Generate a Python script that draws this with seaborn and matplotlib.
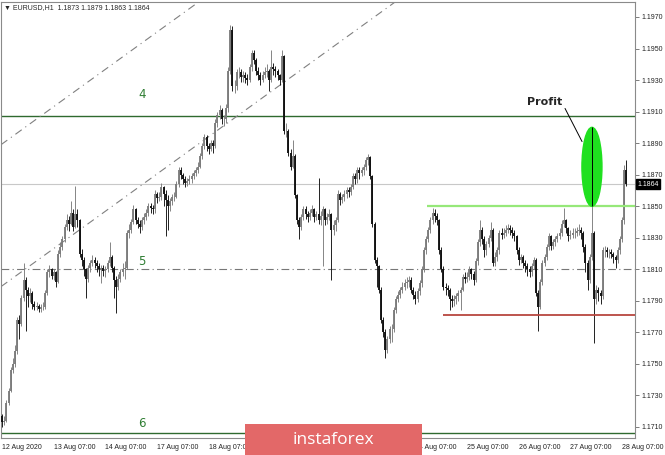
import numpy as np
import pandas as pd
import matplotlib.pyplot as plt
from matplotlib.patches import Ellipse, Rectangle
from matplotlib.transforms import Bbox, TransformedBbox
import seaborn as sns

# EURUSD H1, 12-28 Aug 2020; prices, in pips above 1.1700
base = 1.1700
first_open = 17
closes = [
    13, 14, 25, 33, 46, 50, 58, 78, 75, 92,
    103, 97, 93, 95, 88, 86, 87, 85, 86, 86,
    95, 108, 110, 106, 108, 102, 120, 124, 129, 137,
    141, 139, 146, 137, 145, 141, 120, 116, 110, 104,
    111, 114, 116, 114, 112, 110, 111, 109, 110, 114,
    118, 111, 103, 99, 104, 108, 110, 111, 133, 135,
    140, 148, 141, 139, 137, 141, 143, 146, 150, 149,
    148, 158, 155, 156, 162, 158, 154, 150, 153, 156,
    156, 164, 173, 170, 167, 165, 166, 167, 169, 171,
    173, 175, 182, 188, 194, 188, 186, 190, 188, 203,
    208, 211, 205, 205, 212, 236, 262, 226, 226, 235,
    235, 232, 233, 231, 230, 238, 247, 243, 236, 233,
    230, 233, 235, 236, 230, 238, 237, 236, 233, 230,
    245, 198, 198, 184, 175, 182, 157, 141, 137, 143,
    148, 145, 143, 146, 148, 143, 145, 141, 144, 148,
    141, 143, 145, 135, 138, 141, 158, 154, 156, 158,
    160, 159, 162, 169, 167, 173, 171, 173, 175, 179,
    181, 169, 139, 116, 112, 97, 78, 70, 59, 66,
    72, 72, 84, 91, 94, 97, 99, 101, 102, 103,
    97, 94, 91, 96, 101, 110, 122, 129, 135, 141,
    146, 144, 141, 122, 110, 99, 98, 97, 91, 90,
    91, 93, 95, 97, 105, 104, 105, 110, 107, 103,
    115, 127, 135, 129, 122, 126, 130, 135, 114, 118,
    122, 133, 132, 133, 135, 136, 135, 133, 131, 122,
    116, 118, 114, 112, 110, 108, 112, 116, 95, 86,
    102, 114, 118, 124, 131, 125, 127, 129, 131, 133,
    139, 141, 136, 131, 132, 133, 133, 134, 135, 133,
    124, 114, 103, 118, 133, 91, 97, 95, 93, 122,
    122, 121, 121, 120, 118, 116, 122, 129, 141, 173,
    164,
]
highs = [
    18, 17, 27, 35, 48, 54, 62, 80, 81, 94,
    114, 105, 99, 98, 96, 90, 89, 88, 88, 89,
    97, 110, 113, 111, 110, 109, 122, 127, 131, 139,
    145, 144, 153, 148, 163, 148, 142, 123, 118, 111,
    113, 116, 119, 118, 116, 114, 113, 113, 112, 116,
    127, 119, 112, 106, 107, 110, 114, 115, 135, 139,
    142, 151, 149, 143, 141, 143, 146, 148, 152, 152,
    151, 160, 159, 159, 165, 163, 160, 157, 155, 158,
    159, 166, 175, 175, 171, 169, 168, 170, 171, 173,
    175, 178, 184, 190, 196, 195, 190, 192, 192, 205,
    210, 214, 212, 208, 215, 238, 265, 264, 230, 237,
    238, 237, 236, 235, 234, 240, 249, 249, 244, 238,
    235, 236, 238, 240, 237, 249, 241, 239, 237, 234,
    249, 246, 203, 199, 186, 192, 183, 158, 143, 145,
    150, 150, 147, 148, 151, 149, 147, 168, 147, 150,
    149, 146, 148, 146, 141, 143, 160, 159, 158, 160,
    162, 162, 164, 171, 171, 175, 175, 175, 177, 181,
    183, 182, 170, 140, 118, 113, 99, 80, 72, 68,
    74, 75, 86, 93, 96, 99, 102, 104, 105, 106,
    105, 99, 96, 98, 103, 112, 124, 131, 137, 143,
    149, 148, 146, 142, 124, 112, 101, 100, 98, 94,
    94, 95, 97, 99, 107, 108, 108, 112, 111, 109,
    117, 129, 141, 137, 131, 128, 132, 140, 136, 121,
    124, 135, 136, 136, 138, 139, 138, 137, 135, 132,
    124, 120, 119, 116, 114, 112, 114, 118, 117, 97,
    104, 116, 120, 126, 133, 132, 129, 131, 133, 136,
    141, 149, 142, 137, 135, 136, 136, 137, 139, 137,
    134, 126, 116, 120, 150, 134, 100, 99, 97, 124,
    125, 124, 123, 123, 121, 119, 124, 131, 143, 176,
    179,
]
lows = [
    10, 11, 13, 24, 32, 44, 48, 56, 66, 74,
    90, 71, 86, 89, 85, 84, 84, 83, 83, 84,
    85, 94, 105, 104, 103, 99, 101, 118, 122, 127,
    135, 134, 138, 134, 136, 137, 118, 112, 106, 92,
    102, 108, 112, 111, 108, 106, 101, 106, 105, 108,
    112, 108, 92, 82, 97, 102, 106, 104, 110, 130,
    133, 139, 139, 136, 133, 135, 139, 141, 144, 146,
    145, 146, 152, 153, 154, 150, 131, 135, 147, 151,
    153, 155, 162, 167, 164, 162, 163, 164, 165, 167,
    169, 171, 174, 180, 186, 185, 183, 185, 184, 187,
    200, 205, 202, 201, 203, 210, 234, 223, 222, 224,
    231, 229, 229, 228, 227, 229, 236, 240, 233, 230,
    227, 229, 231, 232, 223, 229, 233, 232, 230, 227,
    229, 196, 194, 182, 173, 174, 155, 139, 129, 135,
    141, 142, 140, 141, 144, 140, 141, 139, 138, 112,
    138, 139, 141, 103, 132, 134, 140, 151, 152, 153,
    155, 156, 157, 161, 164, 165, 167, 169, 170, 173,
    176, 167, 137, 114, 99, 95, 76, 67, 54, 57,
    63, 64, 70, 82, 89, 92, 95, 97, 98, 99,
    95, 91, 88, 89, 94, 99, 108, 120, 127, 133,
    139, 140, 138, 120, 108, 97, 94, 93, 84, 86,
    87, 88, 90, 84, 96, 101, 102, 103, 104, 100,
    102, 113, 125, 126, 118, 119, 124, 128, 112, 112,
    115, 120, 129, 130, 131, 133, 132, 130, 128, 120,
    113, 114, 111, 108, 106, 105, 106, 110, 93, 71,
    85, 100, 112, 116, 122, 122, 123, 125, 127, 129,
    131, 137, 133, 128, 129, 130, 130, 131, 132, 129,
    121, 108, 97, 101, 116, 63, 88, 90, 88, 91,
    118, 118, 117, 117, 114, 111, 114, 120, 127, 139,
    163,
]

date_labels = ["12 Aug 2020", "13 Aug 07:00", "14 Aug 07:00", "17 Aug 07:00",
               "18 Aug 07:00", "19 Aug 07:00", "20 Aug 07:00", "21 Aug 07:00",
               "24 Aug 07:00", "25 Aug 07:00", "26 Aug 07:00", "27 Aug 07:00",
               "28 Aug 07:00"]
price_ticks = [1.1710, 1.1730, 1.1750, 1.1770, 1.1790, 1.1810, 1.1830,
               1.1850, 1.1870, 1.1890, 1.1910, 1.1930, 1.1950, 1.1970]

# levels drawn on the chart
level_4 = 1.1907
level_5 = 1.1810
level_6 = 1.1706
resistance, resistance_from = 1.1850, 197.5
support, support_from = 1.1781, 205
channel_upper = 1.1889   # value at the left edge
channel_lower = 1.1799
channel_slope = 0.0000986  # per bar
profit_bar, profit_top, profit_bottom = 274, 1.1900, 1.1850
profit_text = (252, 1.1916)
profit_pointer = ([261.5, 269.4], [1.1912, 1.1891])

df = pd.DataFrame({"close": closes, "high": highs, "low": lows})
df["open"] = [first_open] + closes[:-1]
df = base + df / 10000.0
df["bar"] = np.arange(len(df))
bid = df["close"].iloc[-1]

sns.set_style("white")
plt.rcParams["font.family"] = ["Liberation Sans", "DejaVu Sans"]

fig = plt.figure(figsize=(6.65, 4.55), dpi=100)
ax = fig.add_axes([1 / 665, 17 / 455, 634 / 665, 436 / 455])

# candles
up = df["close"] >= df["open"]
for mask, col in [(up, "#7c7c7c"), (~up, "#111111")]:
    d = df[mask]
    ax.vlines(d["bar"], d["low"], d["high"], color=col, lw=0.65, zorder=3)
    ax.vlines(d["bar"], d["open"], d["close"], color=col, lw=1.35, zorder=3)

# levels and channel
ax.axhline(bid, color="#c8c8c8", lw=0.8, zorder=1)
ax.axhline(level_4, color="#2f6a2f", lw=1.0, zorder=2)
ax.axhline(level_6, color="#2f6a2f", lw=1.0, zorder=2)
ax.axhline(level_5, color="#777777", lw=0.8, ls=(0, (7, 3, 1, 3)), zorder=2)
ax.hlines(resistance, resistance_from, 300, color="#96e879", lw=1.6, zorder=4)
ax.hlines(support, support_from, 300, color="#b8473f", lw=1.3, zorder=4)
for y0 in (channel_upper, channel_lower):
    ax.axline((-0.5, y0), slope=channel_slope, color="#808080", lw=0.8,
              ls=(0, (7, 4, 1, 4)), zorder=2)

for txt, y in [("4", 1.1921), ("5", 1.1815), ("6", 1.1712)]:
    ax.text(65, y, txt, color="#2e7d32", fontsize=8.5, ha="center",
            va="center", family="DejaVu Sans")

# profit marker
ax.add_patch(Ellipse((profit_bar, (profit_top + profit_bottom) / 2), 9.3,
                     profit_top - profit_bottom, color="#1fe01f", zorder=5))
ax.vlines(profit_bar, profit_bottom, profit_top, color="black", lw=0.7, zorder=6)
ax.plot(*profit_pointer, color="black", lw=0.7, zorder=6)
ax.text(*profit_text, "Profit", fontsize=8, fontweight="bold", ha="center",
        va="center", family="DejaVu Sans", zorder=6)

# header with last bar values
last = df.iloc[-1]
ax.text(0.005, 0.996,
        "\u25bc EURUSD,H1  {:.4f} {:.4f} {:.4f} {:.4f}".format(
            last["open"], last["high"], last["low"], last["close"]),
        transform=ax.transAxes, fontsize=5, va="top", ha="left",
        family=["Liberation Sans", "DejaVu Sans"])

# axes
ax.set_xlim(-0.5, 294)
ax.set_ylim(1.17030, 1.19795)
ax.set_xticks(np.arange(len(date_labels)) * 24)
ax.set_xticklabels(date_labels, ha="left")
ax.yaxis.tick_right()
ax.set_yticks(price_ticks)
ax.set_yticklabels([f"{p:.4f}" for p in price_ticks])
ax.tick_params(axis="both", labelsize=5, length=3, width=0.6, color="#666666",
               direction="out", pad=1.5, labelcolor="#222222")
for s in ax.spines.values():
    s.set_color("#8a8a8a")
    s.set_linewidth(0.8)

# current price tag
ax.text(1.004, bid, f"{bid:.4f}", transform=ax.get_yaxis_transform(),
        color="white", fontsize=5, ha="left", va="center", zorder=7,
        bbox=dict(boxstyle="square,pad=0.2", fc="black", ec="black"), clip_on=False)

# watermark over the date axis
wm_left, wm_right = 245 / 665, 422 / 665
fig.add_artist(Rectangle((wm_left, 0), wm_right - wm_left, 31 / 455,
                         transform=fig.transFigure, fc="#e36868", ec="none",
                         zorder=10))
fig.text(333 / 665, 15 / 455, "instaforex", color="white", fontsize=12.5,
         ha="center", va="center", family="Open Sans", zorder=11)

# date labels under the watermark are cut off by it
for lab in ax.get_xticklabels():
    x = ax.transLimits.transform((lab.get_position()[0], 0))[0] * 634 / 665 + 1 / 665
    if wm_left - 0.005 < x < wm_right - 0.02:
        lab.set_visible(False)
    elif x <= wm_left:
        box = Bbox([[0, 0], [wm_left, 1]])
        lab.set_clip_box(TransformedBbox(box, fig.transFigure))
        lab.set_clip_on(True)
    elif x < wm_right:
        box = Bbox([[wm_right, 0], [1, 1]])
        lab.set_clip_box(TransformedBbox(box, fig.transFigure))
        lab.set_clip_on(True)

fig.savefig("out.png", dpi=100)
